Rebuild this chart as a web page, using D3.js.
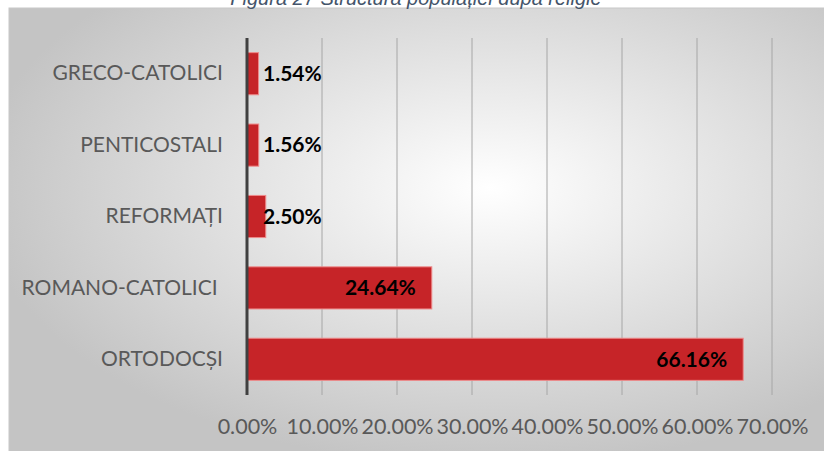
<!DOCTYPE html>
<html>
<head>
<meta charset="utf-8">
<script src="https://cdn.jsdelivr.net/npm/d3@7"></script>
<style>
  body { margin: 0; background: #fff; }
  svg { display: block; }
</style>
</head>
<body>
<div id="chart"></div>
<script>
// data (top to bottom as drawn)
const categories = ["GRECO-CATOLICI", "PENTICOSTALI", "REFORMAȚI", "ROMANO-CATOLICI ", "ORTODOCȘI"];
const values = [1.54, 1.56, 2.50, 24.64, 66.16];
const xTicks = [0, 10, 20, 30, 40, 50, 60, 70];
const title = "Figura  27 Structura populației după religie";

const data = categories.map((c, i) => ({ cat: c, value: values[i] }));

let dimensions = {
  width: 824,
  height: 451,
  margins: { top: 38, bottom: 56, left: 247, right: 51 }
};
dimensions.containerWidth = dimensions.width - dimensions.margins.left - dimensions.margins.right;
dimensions.containerHeight = dimensions.height - dimensions.margins.top - dimensions.margins.bottom;

const svg = d3.select("#chart")
  .append("svg")
  .attr("width", dimensions.width)
  .attr("height", dimensions.height);

// background panel with soft radial gradient
const defs = svg.append("defs");
const grad = defs.append("radialGradient")
  .attr("id", "bg")
  .attr("cx", "58%").attr("cy", "40%").attr("r", "62%");
grad.append("stop").attr("offset", "0%").attr("stop-color", "#ffffff");
grad.append("stop").attr("offset", "100%").attr("stop-color", "#c4c4c4");

svg.append("rect")
  .attr("x", 9).attr("y", 8)
  .attr("width", 830).attr("height", 450)
  .attr("fill", "url(#bg)")
  .attr("stroke", "#c8c8c8");

// title (partly cut off at top, like the source)
svg.append("text")
  .attr("x", 416).attr("y", 5)
  .attr("text-anchor", "middle")
  .attr("font-family", "'Liberation Sans', Arial, sans-serif")
  .attr("font-style", "italic")
  .attr("font-size", 20)
  .attr("fill", "#44546a")
  .text(title);

const container = svg.append("g")
  .attr("transform", `translate(${dimensions.margins.left}, ${dimensions.margins.top})`);

const x = d3.scaleLinear()
  .domain([0, 70])
  .range([0, 75 * 7]);

const y = d3.scaleBand()
  .domain(categories)
  .range([0, dimensions.containerHeight])
  .paddingInner(0.41)
  .paddingOuter(0.205);

// gridlines
container.append("g")
  .selectAll("line")
  .data(xTicks.slice(1))
  .join("line")
  .attr("x1", d => x(d)).attr("x2", d => x(d))
  .attr("y1", 0).attr("y2", dimensions.containerHeight)
  .attr("stroke", "#a6a6a6")
  .attr("stroke-width", 1);

// x axis labels
const xAxis = container.append("g")
  .attr("transform", `translate(0, ${dimensions.containerHeight})`)
  .call(d3.axisBottom(x).tickValues(xTicks).tickSize(0).tickPadding(24)
    .tickFormat(d => d.toFixed(2) + "%"));
xAxis.select(".domain").remove();
xAxis.selectAll("text")
  .attr("font-family", "Lato, sans-serif")
  .attr("font-size", 21.5)
  .attr("fill", "#595959");

// y axis labels
const yAxis = container.append("g")
  .call(d3.axisLeft(y).tickSize(0).tickPadding(24));
yAxis.select(".domain").remove();
yAxis.selectAll("text")
  .attr("font-family", "Lato, sans-serif")
  .attr("font-size", 21)
  .attr("fill", "#595959")
  .style("white-space", "pre");

// bars
container.selectAll("rect.bar")
  .data(data)
  .join("rect")
  .attr("class", "bar")
  .attr("x", x(0))
  .attr("y", d => y(d.cat))
  .attr("width", d => x(d.value) - x(0))
  .attr("height", y.bandwidth())
  .attr("fill", "#c62428")
  .attr("stroke", "#ee8a8a")
  .attr("stroke-width", 1);

// vertical axis line
container.append("line")
  .attr("x1", 0).attr("x2", 0)
  .attr("y1", 0).attr("y2", dimensions.containerHeight)
  .attr("stroke", "#404040")
  .attr("stroke-width", 3);

// value labels (inside end, pushed out for tiny bars)
container.selectAll("text.val")
  .data(data)
  .join("text")
  .attr("class", "val")
  .attr("font-family", "Lato, sans-serif")
  .attr("font-weight", "bold")
  .attr("font-size", 21)
  .attr("fill", "#000")
  .attr("dy", "0.35em")
  .attr("y", d => y(d.cat) + y.bandwidth() / 2)
  .text(d => d.value.toFixed(2) + "%")
  .each(function(d) {
    const w = this.getComputedTextLength();
    const end = x(d.value) - 16;
    if (end - w < 16) {
      d3.select(this).attr("x", 16).attr("text-anchor", "start");
    } else {
      d3.select(this).attr("x", end).attr("text-anchor", "end");
    }
  });
</script>
</body>
</html>
